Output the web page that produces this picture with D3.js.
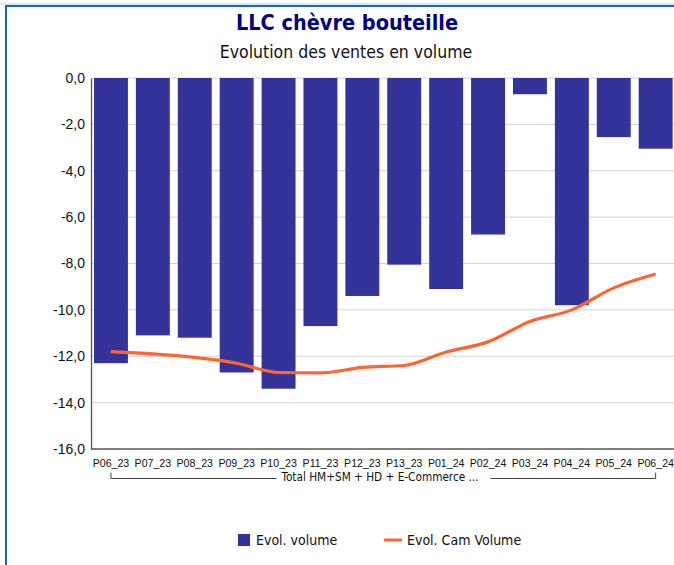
<!DOCTYPE html>
<html><head><meta charset="utf-8">
<script src="https://cdn.jsdelivr.net/npm/d3@7"></script>
<style>
html,body{margin:0;padding:0;background:#fff;}
svg{display:block;font-family:"DejaVu Sans Condensed","DejaVu Sans",sans-serif;}
</style></head>
<body>
<script>
const categories = ["P06_23","P07_23","P08_23","P09_23","P10_23","P11_23","P12_23","P13_23","P01_24","P02_24","P03_24","P04_24","P05_24","P06_24"];
const evolVolume = [-12.3,-11.1,-11.2,-12.7,-13.4,-10.7,-9.4,-8.05,-9.1,-6.75,-0.7,-9.8,-2.55,-3.05];
const evolCamVolume = [-11.8,-11.9,-12.05,-12.3,-12.7,-12.72,-12.48,-12.4,-11.82,-11.38,-10.5,-10.0,-9.05,-8.45];
const yTicks = [0,-2,-4,-6,-8,-10,-12,-14,-16];
const groupLabel = "Total HM+SM + HD + E-Commerce ...";
const seriesNames = ["Evol. volume","Evol. Cam Volume"];

const W=674,H=565;
const svg=d3.select("body").append("svg").attr("width",W).attr("height",H);

// frame
svg.append("rect").attr("x",0).attr("y",3).attr("width",W).attr("height",2).attr("fill","#dbe5f1");
svg.append("line").attr("x1",5).attr("x2",W).attr("y1",6).attr("y2",6).attr("stroke","#1e63b4").attr("stroke-width",2);
svg.append("line").attr("x1",6).attr("x2",6).attr("y1",5).attr("y2",H).attr("stroke","#1e63b4").attr("stroke-width",2);

svg.append("text").attr("x",347).attr("y",30).attr("text-anchor","middle")
  .attr("font-size",21.5).attr("font-weight","bold").attr("fill","#00007f").text("LLC chèvre bouteille");
svg.append("text").attr("x",346).attr("y",58).attr("text-anchor","middle")
  .attr("font-size",17.5).attr("fill","#111").text("Evolution des ventes en volume");

const pLeft=90, pTop=78, pBottom=449;
const x=d3.scaleBand().domain(categories).range([pLeft,pLeft+14*41.9]).paddingInner(0.19).paddingOuter(0.095);
const y=d3.scaleLinear().domain([-16,0]).range([pBottom,pTop]);

// grid
svg.append("g").selectAll("line").data(yTicks.filter(d=>d!==-16)).join("line")
  .attr("x1",91).attr("x2",W).attr("y1",d=>y(d)).attr("y2",d=>y(d))
  .attr("stroke","#d4d4d4").attr("stroke-width",1);

// bars
svg.append("g").selectAll("rect").data(categories).join("rect")
  .attr("x",d=>x(d)).attr("width",x.bandwidth())
  .attr("y",y(0)).attr("height",(d,i)=>y(evolVolume[i])-y(0))
  .attr("fill","#333399");

// axes
const yAxis=d3.axisLeft(y).tickValues(yTicks).tickSize(0).tickPadding(6)
  .tickFormat(d=>d3.format(".1f")(d).replace(".",",").replace("−","-"));
const gy=svg.append("g").attr("transform",`translate(91,0)`).call(yAxis);
gy.select(".domain").attr("stroke","#555").attr("stroke-width",1.3);
gy.selectAll("text").attr("font-size",14).attr("fill","#111").attr("font-family","inherit");

svg.append("line").attr("x1",91).attr("x2",W).attr("y1",pBottom).attr("y2",pBottom).attr("stroke","#555").attr("stroke-width",1.3);

const xAxis=d3.axisBottom(x).tickSize(0).tickPadding(10);
const gx=svg.append("g").attr("transform",`translate(0,${pBottom})`).call(xAxis);
gx.select(".domain").remove();
gx.selectAll("text").attr("font-size",10.6).attr("fill","#111").attr("font-family","inherit");

// line
const line=d3.line().x((d,i)=>x(categories[i])+x.bandwidth()/2).y(d=>y(d)).curve(d3.curveMonotoneX);
svg.append("path").datum(evolCamVolume).attr("d",line).attr("fill","none")
  .attr("stroke","#ff6633").attr("stroke-width",3.2).attr("stroke-linejoin","round");

// group bracket
const x0=x(categories[0])+x.bandwidth()/2, x1=x(categories[categories.length-1])+x.bandwidth()/2;
const gl=svg.append("text").attr("x",380).attr("y",481).attr("text-anchor","middle")
  .attr("font-size",11.7).attr("fill","#111").text(groupLabel);
const bb=gl.node().getBBox();
const by=478.5;
svg.append("path").attr("d",`M${x0},${by-6}V${by}H${bb.x-4}M${bb.x+bb.width+12},${by}H${x1}V${by-6}`)
  .attr("fill","none").attr("stroke","#444").attr("stroke-width",1);

// legend
svg.append("rect").attr("x",238).attr("y",534).attr("width",12).attr("height",12).attr("fill","#333399");
svg.append("text").attr("x",256).attr("y",545).attr("font-size",14).attr("fill","#111").text(seriesNames[0]);
svg.append("line").attr("x1",384).attr("x2",402).attr("y1",540).attr("y2",540).attr("stroke","#ff6633").attr("stroke-width",3);
svg.append("text").attr("x",407).attr("y",545).attr("font-size",14).attr("fill","#111").text(seriesNames[1]);
</script>
</body></html>
